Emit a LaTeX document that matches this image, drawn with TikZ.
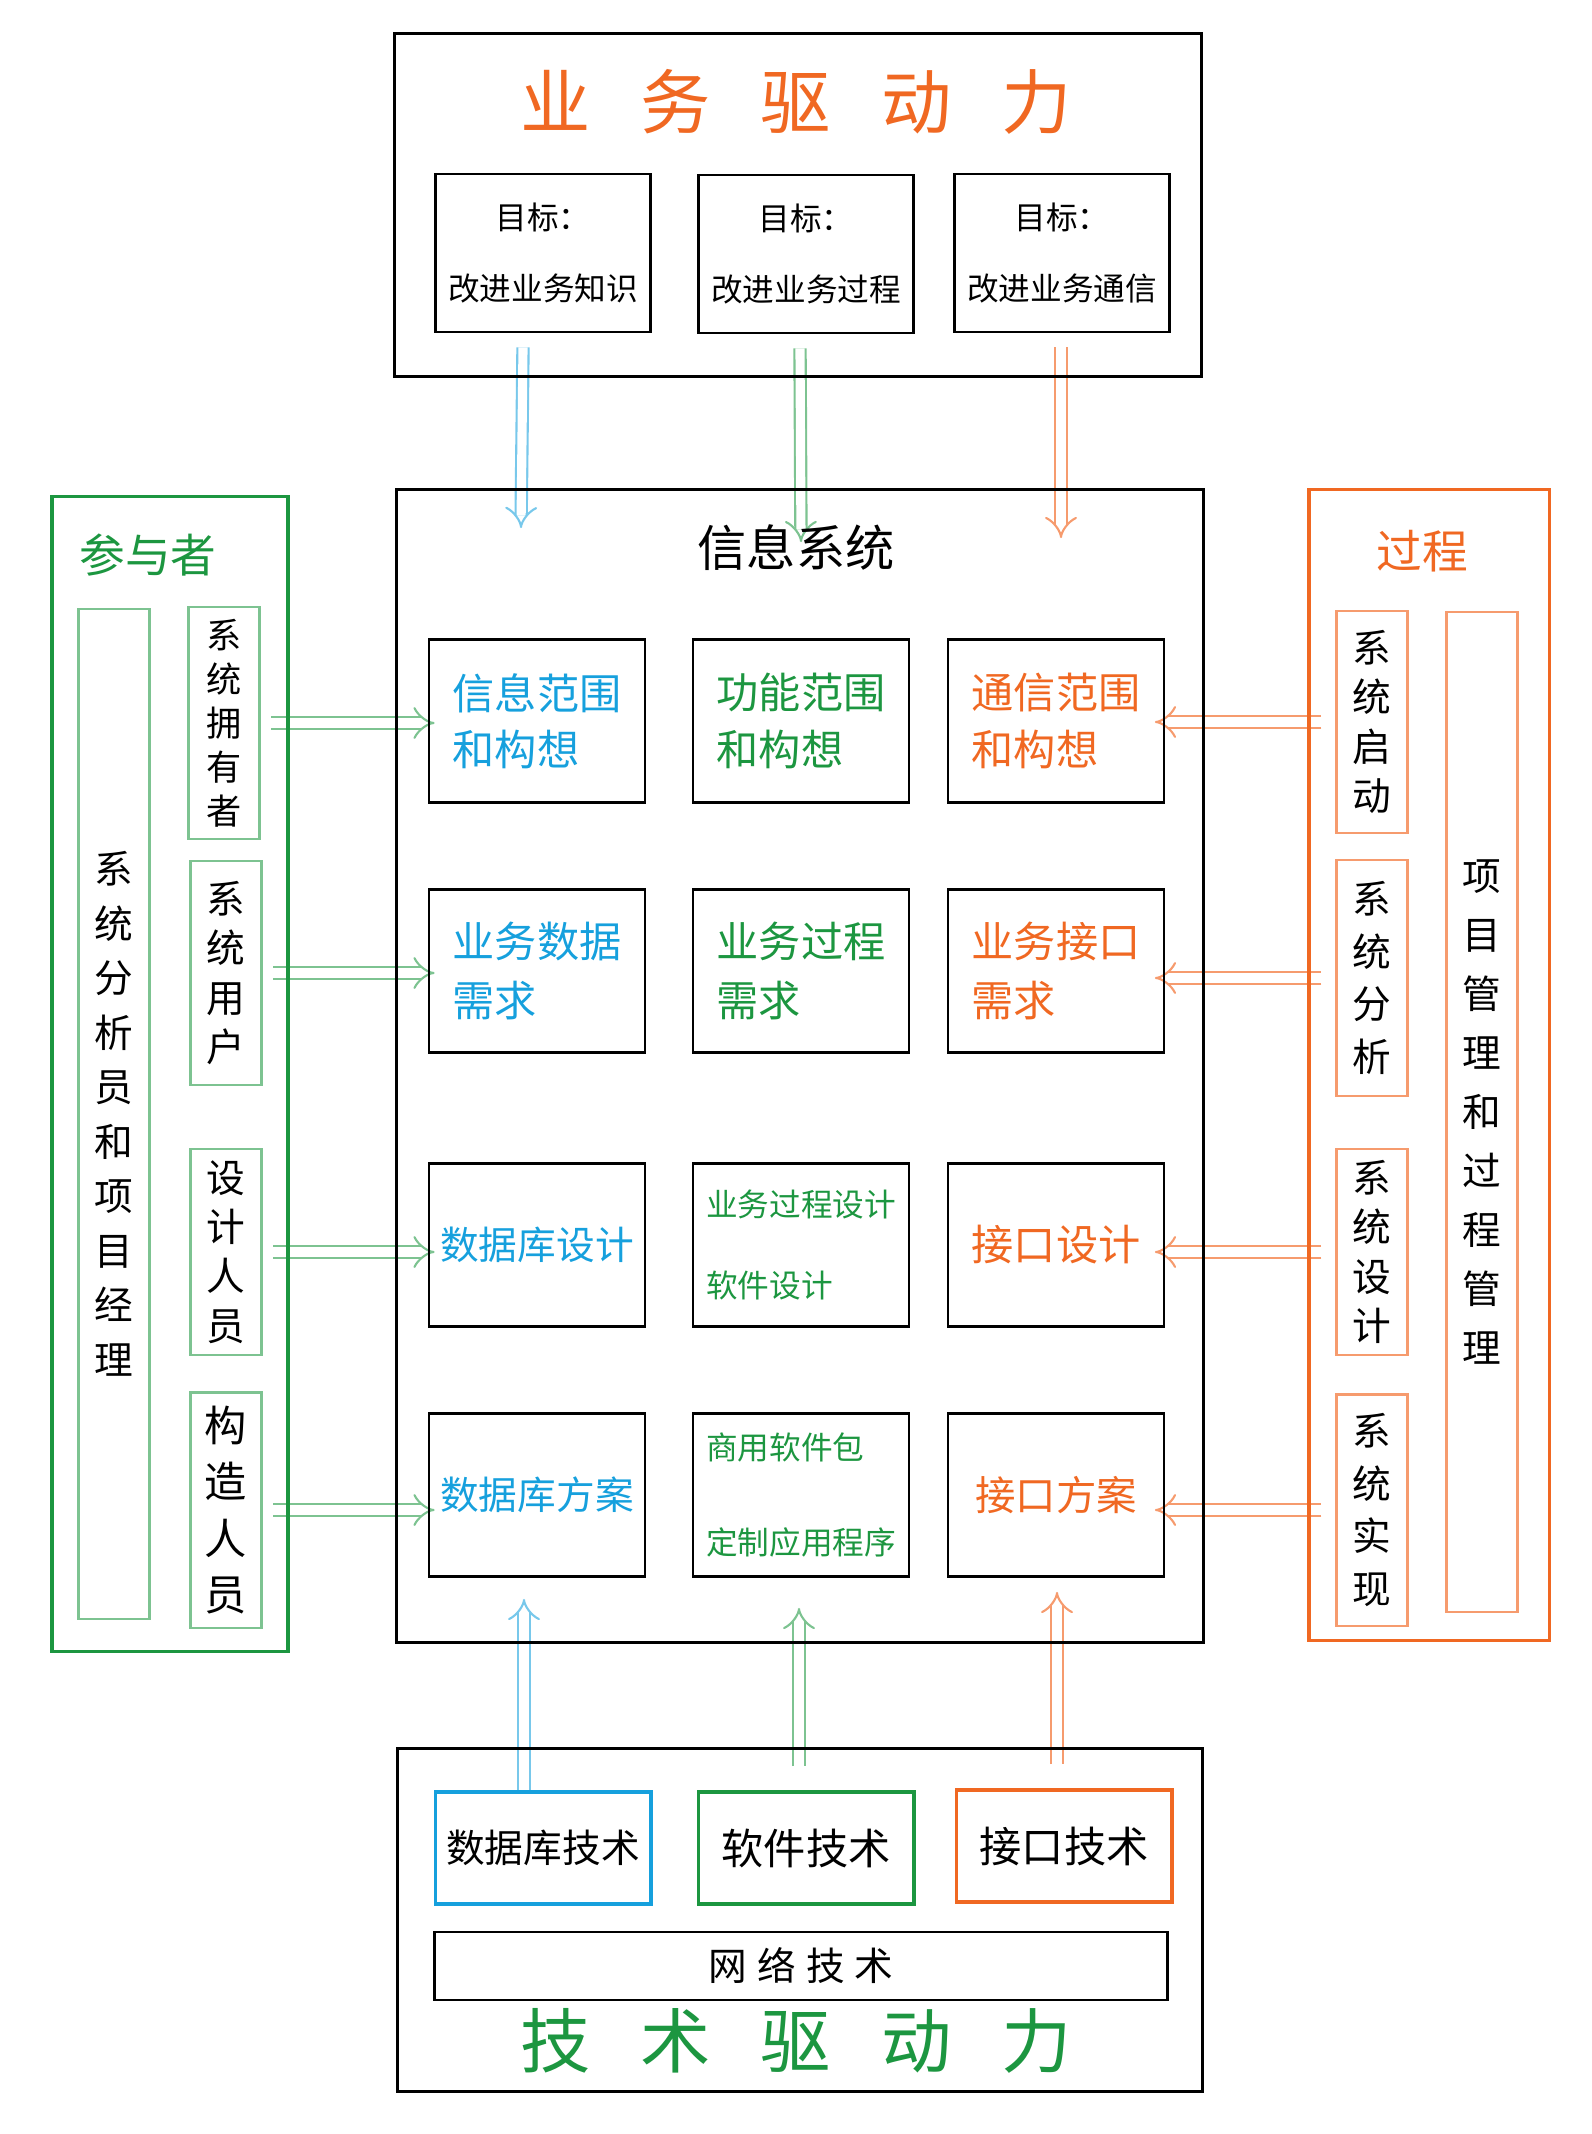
\documentclass[tikz,border=0pt]{standalone}
\usepackage{fontspec}
\setmainfont{Noto Sans CJK SC}
\usetikzlibrary{arrows.meta, positioning, calc}
\definecolor{bizorange}{RGB}{240, 104, 34}
\definecolor{datablue}{RGB}{22, 160, 221}
\definecolor{techgreen}{RGB}{28, 150, 64}
\definecolor{lightblue}{RGB}{120, 200, 235}
\definecolor{lightgreen}{RGB}{125, 195, 145}
\definecolor{lightorange}{RGB}{246, 155, 110}
\pgfdeclarelayer{bg}
\pgfsetlayers{bg,main}

\begin{document}
\begin{tikzpicture}[x=0.01cm, y=-0.01cm,
  frame/.style={draw, line width=0.85pt},
  goalbox/.style={draw, line width=0.75pt, minimum width=2.15cm, minimum height=1.58cm, inner sep=2pt, align=center, font=\fontsize{9}{20}\selectfont},
  cell/.style={draw, line width=0.75pt, minimum width=2.16cm, minimum height=1.63cm, inner sep=2pt, align=left, text=#1, font=\fontsize{12}{16}\selectfont},
  sidebox/.style={draw=#1, line width=0.6pt, minimum width=0.71cm, align=center, font=\fontsize{11}{14}\selectfont},
  techbox/.style={draw=#1, line width=1.1pt, minimum width=2.15cm, minimum height=1.12cm, inner sep=2pt, font=\fontsize{12}{14}\selectfont},
  dlink/.style={draw=#1, double, double distance=2.6pt, line width=0.6pt, -{Implies[scale=1.3]}},
  bigtitle/.style={text=#1, font=\fontsize{20}{24}\selectfont}
]
  \useasboundingbox (0,0) rectangle (1592,2134);

  % business drivers
  \node[frame, minimum width=8.07cm, minimum height=3.43cm] (biz) at (798,205) {};
  \node[bigtitle=bizorange] (bizt) at (796,102) {业\hspace{0.5cm}务\hspace{0.5cm}驱\hspace{0.5cm}动\hspace{0.5cm}力};
  \node[goalbox] (g1) at (543,253) {目标：\\改进业务知识};
  \node[goalbox] (g2) at (806,254) {目标：\\改进业务过程};
  \node[goalbox] (g3) at (1062,253) {目标：\\改进业务通信};

  % information system
  \node[frame, minimum width=8.07cm, minimum height=11.52cm] (sys) at (800,1066) {};
  \node[font=\fontsize{14}{16}\selectfont] (syst) at (796,548) {信息系统};
  \node[cell=datablue] (info) at (537,721) {信息范围\\和构想};
  \node[cell=techgreen] (func) at (801,721) {功能范围\\和构想};
  \node[cell=bizorange] (comm) at (1056,721) {通信范围\\和构想};
  \node[cell=datablue, font=\fontsize{12}{17}\selectfont] (bdata) at (537,971) {业务数据\\需求};
  \node[cell=techgreen, font=\fontsize{12}{17}\selectfont] (bproc) at (801,971) {业务过程\\需求};
  \node[cell=bizorange, font=\fontsize{12}{17}\selectfont] (bif) at (1056,971) {业务接口\\需求};
  \node[cell=datablue, align=center, font=\fontsize{11}{14}\selectfont] (dbdes) at (537,1245) {数据库设计};
  \node[cell=techgreen, font=\fontsize{9}{23}\selectfont] (swdes) at (801,1245) {业务过程设计\\软件设计};
  \node[cell=bizorange, align=center] (ifdes) at (1056,1245) {接口设计};
  \node[cell=datablue, align=center, font=\fontsize{11}{14}\selectfont] (dbsol) at (537,1495) {数据库方案};
  \node[cell=techgreen, font=\fontsize{9}{27}\selectfont] (swsol) at (801,1495) {商用软件包\\定制应用程序};
  \node[cell=bizorange, align=center, font=\fontsize{11.5}{14}\selectfont] (ifsol) at (1056,1495) {接口方案};

  % participants
  \node[draw=techgreen, line width=0.9pt, minimum width=2.36cm, minimum height=11.54cm] (part) at (170,1074) {};
  \node[text=techgreen, font=\fontsize{13}{16}\selectfont] (partt) at (148,555) {参与者};
  \node[sidebox=lightgreen, minimum height=10.09cm, font=\fontsize{11}{15.5}\selectfont] (anmgr) at (114,1114) {系\\统\\分\\析\\员\\和\\项\\目\\经\\理};
  \node[sidebox=lightgreen, minimum height=2.22cm, font=\fontsize{10}{12.5}\selectfont] (owner) at (224,723) {系\\统\\拥\\有\\者};
  \node[sidebox=lightgreen, minimum height=2.24cm] (user) at (226,973) {系\\统\\用\\户};
  \node[sidebox=lightgreen, minimum height=2.04cm] (designer) at (226,1252) {设\\计\\人\\员};
  \node[sidebox=lightgreen, minimum height=2.35cm, font=\fontsize{12}{16}\selectfont] (builder) at (226,1510) {构\\造\\人\\员};

  % process
  \node[draw=bizorange, line width=0.9pt, minimum width=2.40cm, minimum height=11.50cm] (proc) at (1429,1065) {};
  \node[text=bizorange, font=\fontsize{13}{16}\selectfont] (proct) at (1422,551) {过程};
  \node[sidebox=lightorange, minimum height=2.21cm] (sinit) at (1372,722) {系\\统\\启\\动};
  \node[sidebox=lightorange, minimum height=2.35cm, font=\fontsize{11}{15}\selectfont] (sanal) at (1372,978) {系\\统\\分\\析};
  \node[sidebox=lightorange, minimum height=2.04cm] (sdes) at (1372,1252) {系\\统\\设\\计};
  \node[sidebox=lightorange, minimum height=2.31cm, font=\fontsize{11}{15}\selectfont] (simpl) at (1372,1510) {系\\统\\实\\现};
  \node[sidebox=lightorange, minimum height=10.0cm, font=\fontsize{11}{16.8}\selectfont] (pmgr) at (1482,1112) {项\\目\\管\\理\\和\\过\\程\\管\\理};

  % technology drivers
  \node[frame, minimum width=8.05cm, minimum height=3.42cm] (tech) at (800,1920) {};
  \node[techbox=datablue, font=\fontsize{11}{14}\selectfont] (dbtech) at (543,1848) {数据库技术};
  \node[techbox=techgreen] (swtech) at (806,1848) {软件技术};
  \node[techbox=bizorange] (iftech) at (1064,1846) {接口技术};
  \node[frame, line width=0.8pt, minimum width=7.32cm, minimum height=0.68cm, font=\fontsize{11}{13}\selectfont] (net) at (801,1966) {网\hspace{0.1cm}络\hspace{0.1cm}技\hspace{0.1cm}术};
  \node[bigtitle=techgreen] (techt) at (796,2041) {技\hspace{0.5cm}术\hspace{0.5cm}驱\hspace{0.5cm}动\hspace{0.5cm}力};

  \begin{pgfonlayer}{bg}
    % goals down into the system
    \draw[dlink=lightblue] ($(g1.south)+(-20,14)$) -- ($(info.north)+(-16,-110)$);
    \draw[dlink=lightgreen] ($(g2.south)+(-6,14)$) -- ($(func.north)+(0,-96)$);
    \draw[dlink=lightorange] ($(g3.south)+(-1,14)$) -- ($(comm.north)+(5,-100)$);
    % participants
    \draw[dlink=lightgreen] ([xshift=3pt]owner.east) -- ([xshift=2pt]owner.east -| info.west);
    \draw[dlink=lightgreen] ([xshift=3pt]user.east) -- ([xshift=2pt]user.east -| bdata.west);
    \draw[dlink=lightgreen] ([xshift=3pt]designer.east) -- ([xshift=2pt]designer.east -| dbdes.west);
    \draw[dlink=lightgreen] ([xshift=3pt]builder.east) -- ([xshift=2pt]builder.east -| dbsol.west);
    % process
    \draw[dlink=lightorange] ([xshift=-4pt]sinit.west) -- ([xshift=-3pt]sinit.west -| comm.east);
    \draw[dlink=lightorange] ([xshift=-4pt]sanal.west) -- ([xshift=-3pt]sanal.west -| bif.east);
    \draw[dlink=lightorange] ([xshift=-4pt]sdes.west) -- ([xshift=-3pt]sdes.west -| ifdes.east);
    \draw[dlink=lightorange] ([xshift=-4pt]simpl.west) -- ([xshift=-3pt]simpl.west -| ifsol.east);
    % technology up into the system
    \draw[dlink=lightblue] ($(dbtech.north)+(-19,0)$) -- ($(dbsol.south)+(-13,21)$);
    \draw[dlink=lightgreen] ($(swtech.north)+(-7,-24)$) -- ($(swsol.south)+(-2,30)$);
    \draw[dlink=lightorange] ($(iftech.north)+(-7,-24)$) -- ($(ifsol.south)+(1,14)$);
  \end{pgfonlayer}
\end{tikzpicture}
\end{document}
